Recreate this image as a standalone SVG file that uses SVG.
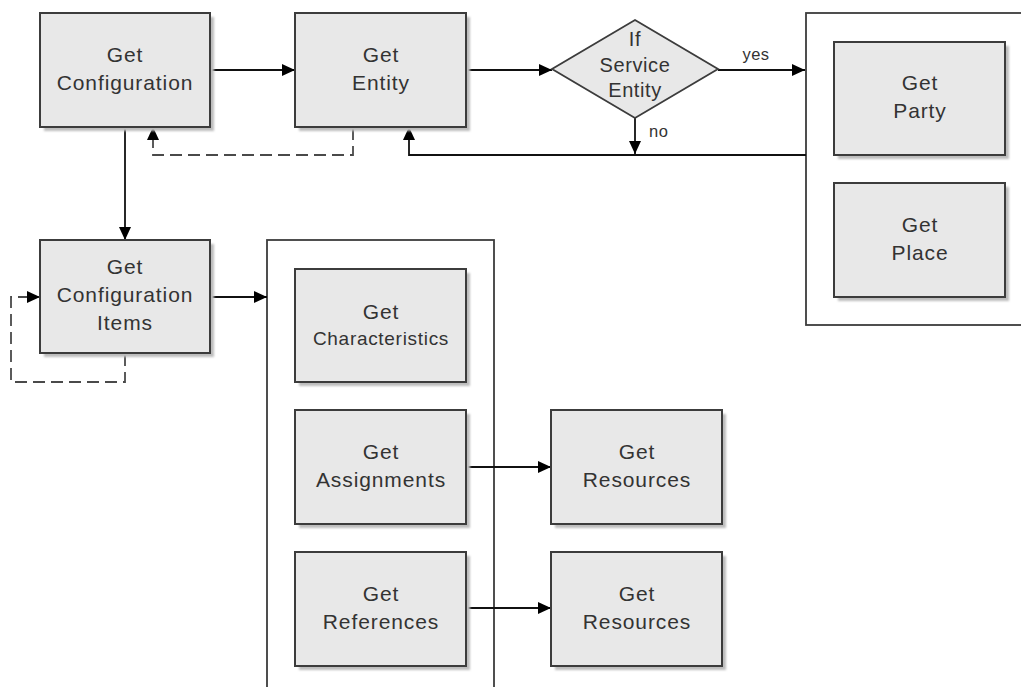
<svg xmlns="http://www.w3.org/2000/svg" width="1021" height="687" viewBox="0 0 1021 687">
<style>
.box{fill:#e8e8e8;stroke:#3c3c3c;stroke-width:2}
.sh{fill:#bdbdbd;filter:url(#blur)}
.cont{fill:#fff;stroke:#3c3c3c;stroke-width:1.8}
.t{font-family:"Liberation Sans",Arial,sans-serif;font-size:21px;fill:#333;text-anchor:middle;letter-spacing:0.9px}
.ts{font-size:19px;letter-spacing:0.7px}
.tm{font-size:20px;letter-spacing:0.6px}
.lbl{font-family:"Liberation Sans",Arial,sans-serif;font-size:16.5px;fill:#333;letter-spacing:0.5px}
.c{fill:none;stroke:#111;stroke-width:1.8}
.d{fill:none;stroke:#4a4a4a;stroke-width:1.8;stroke-dasharray:12 6}
</style>
<defs>
<filter id="blur" x="-10%" y="-10%" width="120%" height="120%"><feGaussianBlur stdDeviation="1.2"/></filter>
<marker id="ah" markerUnits="userSpaceOnUse" markerWidth="13" markerHeight="12" refX="13" refY="6" orient="auto"><path d="M0,0 L13,6 L0,12 z" fill="#000"/></marker>
</defs>
<rect width="1021" height="687" fill="#fff"/>
<g id="container-party-place"><rect class="cont" x="806" y="13" width="230" height="312"/></g>
<g id="container-ci"><rect class="cont" x="267" y="240" width="227" height="460"/></g>
<g id="connectors">
<path class="c" d="M210,70 H295" marker-end="url(#ah)"/>
<path class="c" d="M466,70 H552" marker-end="url(#ah)"/>
<path class="c" d="M718,70 H805" marker-end="url(#ah)"/>
<path class="c" d="M635,118 V154" marker-end="url(#ah)"/>
<path class="c" d="M806,155 H409 V127" marker-end="url(#ah)"/>
<path class="d" d="M353,128 V155 H153 V127" marker-end="url(#ah)"/>
<path class="c" d="M125,127 V240" marker-end="url(#ah)"/>
<path class="d" d="M125,354 V382 H11 V297 H40" marker-end="url(#ah)"/>
<path class="c" d="M210,297 H267" marker-end="url(#ah)"/>
<path class="c" d="M466,467 H551" marker-end="url(#ah)"/>
<path class="c" d="M466,608 H551" marker-end="url(#ah)"/>
<text class="lbl" x="756" y="60" text-anchor="middle">yes</text>
<text class="lbl" x="649" y="137">no</text>
</g>
<g id="get-configuration"><rect class="sh" x="44" y="17" width="170" height="114"/><rect class="box" x="40" y="13" width="170" height="114"/><text class="t" x="125" y="62">Get</text><text class="t" x="125" y="90">Configuration</text></g>
<g id="get-entity"><rect class="sh" x="299" y="17" width="171" height="114"/><rect class="box" x="295" y="13" width="171" height="114"/><text class="t" x="381" y="62">Get</text><text class="t" x="381" y="90">Entity</text></g>
<g id="if-service-entity"><polygon points="635,20 718,69 635,118 552,69" fill="#e8e8e8" stroke="#3c3c3c" stroke-width="1.8"/><text class="t tm" x="635" y="46">If</text><text class="t tm" x="635" y="72">Service</text><text class="t tm" x="635" y="97">Entity</text></g>
<g id="get-party"><rect class="sh" x="838" y="46" width="171" height="113"/><rect class="box" x="834" y="42" width="171" height="113"/><text class="t" x="920" y="90">Get</text><text class="t" x="920" y="118">Party</text></g>
<g id="get-place"><rect class="sh" x="838" y="187" width="171" height="114"/><rect class="box" x="834" y="183" width="171" height="114"/><text class="t" x="920" y="232">Get</text><text class="t" x="920" y="260">Place</text></g>
<g id="get-configuration-items"><rect class="sh" x="44" y="244" width="170" height="113"/><rect class="box" x="40" y="240" width="170" height="113"/><text class="t" x="125" y="274">Get</text><text class="t" x="125" y="302">Configuration</text><text class="t" x="125" y="330">Items</text></g>
<g id="get-characteristics"><rect class="sh" x="299" y="273" width="171" height="113"/><rect class="box" x="295" y="269" width="171" height="113"/><text class="t" x="381" y="319">Get</text><text class="t ts" x="381" y="345">Characteristics</text></g>
<g id="get-assignments"><rect class="sh" x="299" y="414" width="171" height="114"/><rect class="box" x="295" y="410" width="171" height="114"/><text class="t" x="381" y="459">Get</text><text class="t" x="381" y="487">Assignments</text></g>
<g id="get-references"><rect class="sh" x="299" y="556" width="171" height="114"/><rect class="box" x="295" y="552" width="171" height="114"/><text class="t" x="381" y="601">Get</text><text class="t" x="381" y="629">References</text></g>
<g id="get-resources-1"><rect class="sh" x="555" y="414" width="171" height="114"/><rect class="box" x="551" y="410" width="171" height="114"/><text class="t" x="637" y="459">Get</text><text class="t" x="637" y="487">Resources</text></g>
<g id="get-resources-2"><rect class="sh" x="555" y="556" width="171" height="114"/><rect class="box" x="551" y="552" width="171" height="114"/><text class="t" x="637" y="601">Get</text><text class="t" x="637" y="629">Resources</text></g>
</svg>
